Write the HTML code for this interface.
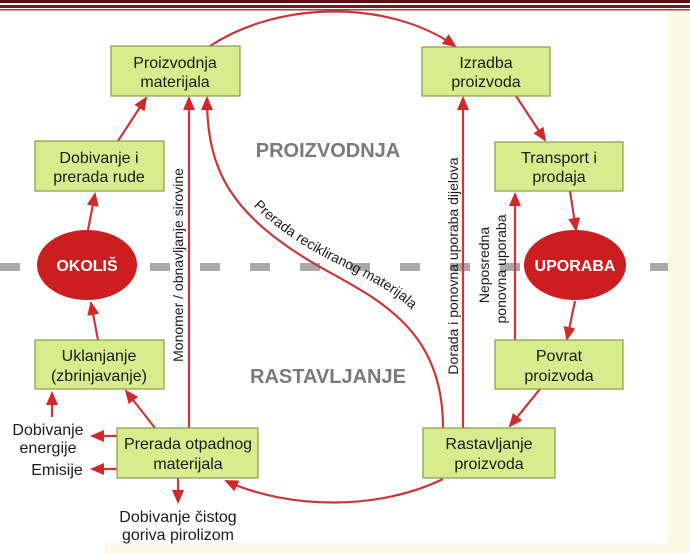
<!DOCTYPE html>
<html><head><meta charset="utf-8"><style>
html,body{margin:0;padding:0;background:#fff;}
svg{display:block;font-family:"Liberation Sans",sans-serif;}
</style></head><body>
<svg width="690" height="554" viewBox="0 0 690 554" xmlns="http://www.w3.org/2000/svg">
<defs>
<marker id="a" markerWidth="14" markerHeight="12" refX="12" refY="6" orient="auto" markerUnits="userSpaceOnUse">
<path d="M0,0 L14,6 L0,12 z" fill="#d2282a"/></marker>
</defs>
<rect x="0" y="0" width="690" height="554" fill="#fff"/>
<rect x="668" y="12" width="22" height="542" fill="#fdf8e4"/>
<rect x="105" y="543" width="585" height="11" fill="#fdf8e4"/>
<rect x="0" y="0" width="690" height="3" fill="#5a1010"/>
<rect x="0" y="5" width="690" height="3" fill="#7a1a1a"/>
<rect x="0" y="9" width="690" height="1.5" fill="#a04040"/>
<line x1="0" y1="267" x2="668" y2="267" stroke="#a8a8a8" stroke-width="8" stroke-dasharray="20,30"/>
<g fill="none" stroke="#c8383a" stroke-width="2.2">
<path d="M210,46 C280,0 390,0 455,46" marker-end="url(#a)"/>
<path d="M516,96 L545,140" marker-end="url(#a)"/>
<path d="M570,191 L576,230" marker-end="url(#a)"/>
<path d="M575,301 L567,339" marker-end="url(#a)"/>
<path d="M540,389 L510,426" marker-end="url(#a)"/>
<path d="M443,479 C380,510 290,510 226,481" marker-end="url(#a)"/>
<path d="M155,428 L126,391" marker-end="url(#a)"/>
<path d="M98,340 L91,303" marker-end="url(#a)"/>
<path d="M88,230 L95,194" marker-end="url(#a)"/>
<path d="M118,141 L146,98" marker-end="url(#a)"/>
<path d="M52,417 L52,393" marker-end="url(#a)"/>
<path d="M117,436 L92,436" marker-end="url(#a)"/>
<path d="M117,469 L92,469" marker-end="url(#a)"/>
<path d="M178,478 L178,502" marker-end="url(#a)"/>
<path d="M189,428 L189,98" marker-end="url(#a)"/>
<path d="M463,428 L463,98" marker-end="url(#a)"/>
<path d="M515,340 L515,194" marker-end="url(#a)"/>
<path d="M443,428 C443,330 380,300 320,267 C230,215 207,170 207,98" marker-end="url(#a)"/>
</g>
<path id="tp" d="M228,170 C245,210 300,245 330,260 C380,285 415,300 438,345" fill="none"/>
<g fill="#d8ec8e" stroke="#8a9a48" stroke-width="1.2">
<rect x="111" y="46" width="129" height="50"/>
<rect x="422" y="47" width="128" height="49"/>
<rect x="35" y="141" width="129" height="50"/>
<rect x="495" y="142" width="128" height="49"/>
<rect x="35" y="340" width="129" height="49"/>
<rect x="495" y="340" width="128" height="49"/>
<rect x="117" y="428" width="141" height="50"/>
<rect x="423" y="428" width="132" height="50"/>
</g>
<ellipse cx="87" cy="265" rx="50" ry="35" fill="#cc1e20"/>
<ellipse cx="575" cy="265" rx="51" ry="35" fill="#cc1e20"/>
<g font-size="16" fill="#1a1a1a" text-anchor="middle">
<text x="175" y="68">Proizvodnja</text><text x="175" y="87">materijala</text>
<text x="486" y="68">Izradba</text><text x="486" y="87">proizvoda</text>
<text x="99" y="163">Dobivanje i</text><text x="99" y="182">prerada rude</text>
<text x="559" y="163">Transport i</text><text x="559" y="182">prodaja</text>
<text x="99" y="361">Uklanjanje</text><text x="99" y="381">(zbrinjavanje)</text>
<text x="559" y="361">Povrat</text><text x="559" y="381">proizvoda</text>
<text x="188" y="449">Prerada otpadnog</text><text x="188" y="469">materijala</text>
<text x="489" y="449">Rastavljanje</text><text x="489" y="469">proizvoda</text>
<text x="48" y="435">Dobivanje</text><text x="48" y="453">energije</text>
<text x="57" y="475">Emisije</text>
<text x="178" y="522">Dobivanje čistog</text><text x="178" y="540">goriva pirolizom</text>
</g>
<g font-size="16" font-weight="bold" fill="#fff" text-anchor="middle">
<text x="87" y="271">OKOLIŠ</text><text x="575" y="271">UPORABA</text>
</g>
<g font-size="20" font-weight="bold" fill="#7a7a7a" text-anchor="middle">
<text x="328" y="157">PROIZVODNJA</text><text x="328" y="383">RASTAVLJANJE</text>
</g>
<g font-size="14" fill="#1a1a1a" text-anchor="middle">
<text transform="translate(183,265) rotate(-90)">Monomer / obnavljanje sirovine</text>
<text transform="translate(458,266) rotate(-90)">Dorada i ponovna uporaba dijelova</text>
<text transform="translate(489,265) rotate(-90)">Neposredna</text>
<text transform="translate(506,269) rotate(-90)">ponovna uporaba</text>
<text font-size="14"><textPath href="#tp" startOffset="50%">Prerada recikliranog materijala</textPath></text>
</g>
</svg>
</body></html>
